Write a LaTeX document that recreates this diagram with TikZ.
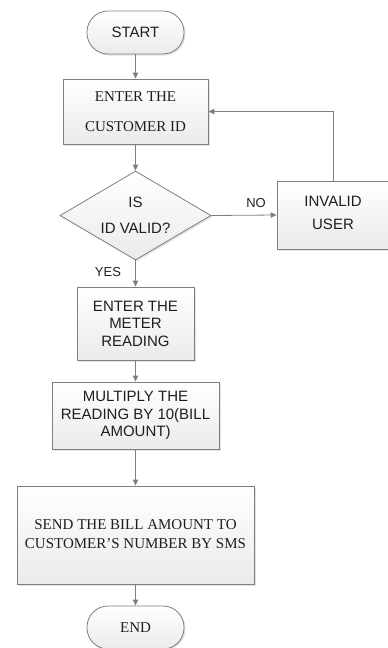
\documentclass[tikz,border=0pt]{standalone}
\usepackage{fontspec}
\setmainfont{Liberation Serif}
\setsansfont{Liberation Sans}
\usetikzlibrary{shapes.geometric,shadows,arrows.meta}
\definecolor{linec}{HTML}{7F7F7F}
\definecolor{txtc}{HTML}{1E1E1E}
\tikzset{
  box/.style={draw=linec, line width=0.8pt, top color=white, bottom color=gray!16,
    drop shadow={shadow xshift=1.5pt, shadow yshift=-1.5pt, fill=gray!45, opacity=0.5},
    inner sep=0pt, align=center, text=txtc, font=\sffamily\fontsize{15}{17.5}\selectfont},
  serifbox/.style={box, font=\rmfamily\fontsize{15}{19}\selectfont},
  term/.style={box, rounded corners=21pt},
  decision/.style={box, diamond, aspect=1.7},
  flow/.style={draw=linec, line width=0.8pt, -{Triangle[length=6pt,width=5.5pt]}},
  lbl/.style={text=txtc, font=\sffamily\fontsize{13}{15}\selectfont, inner sep=0pt}
}
\begin{document}
\begin{tikzpicture}[x=1pt,y=-1pt]
\useasboundingbox (0,0) rectangle (388,648);
\node[term, minimum width=97pt, minimum height=43pt] (start) at (135.5,32.5) {START};
\node[serifbox, minimum width=145pt, minimum height=65pt] (cust) at (135.5,111.5) {ENTER THE\\[11pt]CUSTOMER ID};
\node[decision, minimum width=151pt, minimum height=89pt] (dia) at (135.5,215.5) {IS\\[9pt]ID VALID?};
\node[box, minimum width=112pt, minimum height=68pt] (inv) at (333,215) {\raisebox{4pt}{\shortstack{INVALID\\[10pt]USER}}};
\node[box, minimum width=117pt, minimum height=73pt] (meter) at (135.5,323.5) {ENTER THE\\METER\\READING};
\node[box, minimum width=167pt, minimum height=67pt] (mult) at (135.5,415.5) {\raisebox{5pt}{\begin{tabular}{@{}c@{}}MULTIPLY THE\\READING BY 10(BILL\\AMOUNT)\end{tabular}}};
\node[serifbox, minimum width=237pt, minimum height=98pt] (send) at (135.5,535) {\raisebox{6pt}{\begin{tabular}{@{}c@{}}SEND THE BILL AMOUNT TO\\CUSTOMER'S NUMBER BY SMS\end{tabular}}};
\node[term, font=\rmfamily\fontsize{15}{17}\selectfont, minimum width=97pt, minimum height=43pt] (end) at (135.5,627.5) {END};
\draw[flow] (start) -- (cust);
\draw[flow] (cust) -- (dia);
\draw[flow] (dia.east) -- (inv.west);
\draw[flow] (inv.north) |- (cust.east);
\draw[flow] (dia.south) -- (meter.north);
\draw[flow] (meter) -- (mult);
\draw[flow] (mult) -- (send);
\draw[flow] (send) -- (end);
\node[lbl] (no) at (256,203) {NO};
\node[lbl] (yes) at (108,272) {YES};
\end{tikzpicture}
\end{document}
